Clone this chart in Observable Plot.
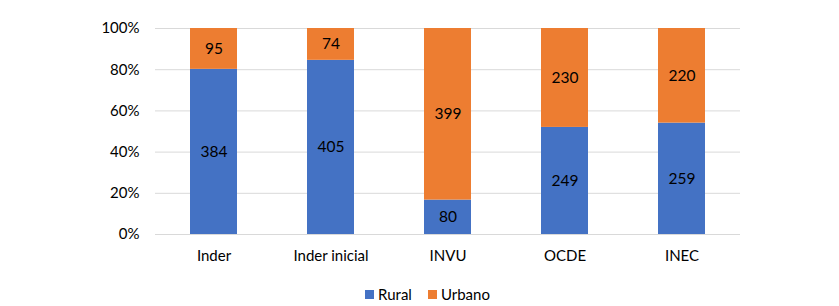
<!DOCTYPE html>
<html>
<head>
<meta charset="utf-8">
<script src="https://cdn.jsdelivr.net/npm/d3@7"></script>
<script src="https://cdn.jsdelivr.net/npm/@observablehq/plot@0.6"></script>
<style>
  html, body { margin: 0; padding: 0; background: #fff; }
  body { width: 839px; height: 306px; overflow: hidden; font-family: Lato, "Noto Sans", sans-serif; }
  #legend { position: absolute; left: 0; top: 285px; width: 839px; display: flex; justify-content: center; gap: 16px; font-size: 15px; color: #000; margin-left: 8px; }
  #legend span.item { display: flex; align-items: center; gap: 4px; }
  #legend span.sw { width: 9px; height: 9px; display: inline-block; }
</style>
</head>
<body>
<div id="chart"></div>
<div id="legend"></div>
<script>
const categories = ["Inder", "Inder inicial", "INVU", "OCDE", "INEC"];
const rural = [384, 405, 80, 249, 259];
const urbano = [95, 74, 399, 230, 220];
const seriesNames = ["Rural", "Urbano"];
const seriesColors = ["#4472C4", "#ED7D31"];
const yTicks = [0, 0.2, 0.4, 0.6, 0.8, 1];

const data = [];
categories.forEach((c, i) => {
  data.push({cat: c, series: "Rural", value: rural[i]});
  data.push({cat: c, series: "Urbano", value: urbano[i]});
});

const chart = Plot.plot({
  width: 839,
  height: 272,
  marginLeft: 155,
  marginRight: 99,
  marginTop: 28,
  marginBottom: 38,
  style: {fontFamily: "Lato, 'Noto Sans', sans-serif", fontSize: "15px", color: "#000", background: "#fff"},
  x: {domain: categories, paddingInner: 0.6, paddingOuter: 0.3, label: null},
  y: {domain: [0, 1], label: null},
  color: {domain: seriesNames, range: seriesColors},
  marks: [
    Plot.ruleY(yTicks, {stroke: "#d9d9d9", strokeWidth: 1}),
    Plot.barY(data, Plot.stackY({offset: "normalize", order: seriesNames, x: "cat", y: "value", z: "series", fill: "series"})),
    Plot.text(data, Plot.stackY({offset: "normalize", order: seriesNames, x: "cat", y: "value", z: "series", text: "value", fill: "#000", fontSize: 15.5})),
    Plot.axisX({tickSize: 0, tickPadding: 16, fontSize: 15}),
    Plot.axisY({ticks: yTicks, tickFormat: d => Math.round(d * 100) + "%", tickSize: 0, tickPadding: 16, fontSize: 15})
  ]
});
document.getElementById("chart").appendChild(chart);

const legend = document.getElementById("legend");
seriesNames.forEach((s, i) => {
  const item = document.createElement("span");
  item.className = "item";
  const sw = document.createElement("span");
  sw.className = "sw";
  sw.style.background = seriesColors[i];
  item.appendChild(sw);
  item.appendChild(document.createTextNode(s));
  legend.appendChild(item);
});
</script>
</body>
</html>
